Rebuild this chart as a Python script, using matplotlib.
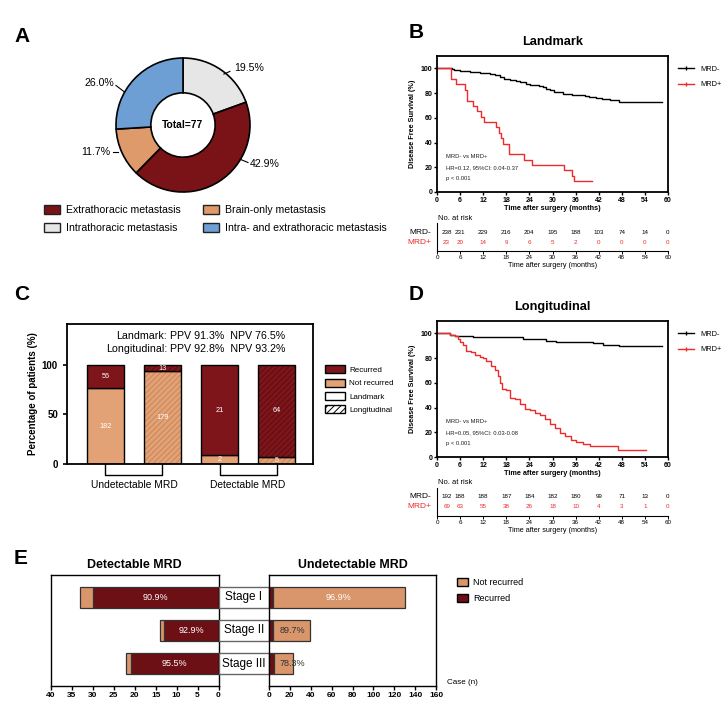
import matplotlib
matplotlib.use('Agg')
import matplotlib.pyplot as plt
from matplotlib.patches import Patch
from matplotlib.lines import Line2D

plt.rcParams['font.family'] = ['Liberation Sans', 'DejaVu Sans']
plt.rcParams['hatch.linewidth'] = 0.7

# ---------------- data ----------------
# A: metastasis pattern (clockwise from top)
meta_labels = ['Intrathoracic metastasis', 'Extrathoracic metastasis',
               'Brain-only metastasis', 'Intra- and extrathoracic metastasis']
meta_counts = [15, 33, 9, 20]

# B: landmark KM (months, DFS %)
land_neg_t = [0, 3.8, 4.5, 5.9, 7.0, 8.6, 11.2, 12.5, 13.8, 15.0, 16.4, 17.5, 19.0, 20.5,
              21.6, 23.1, 24.2, 26.5, 27.5, 28.3, 29.4, 30.5, 32.6, 35.0, 36.9, 38.5,
              39.5, 41.2, 42.9, 45.0, 47.2, 58.5]
land_neg_s = [100, 99.2, 98.6, 98.0, 97.5, 97.0, 96.5, 96.0, 95.2, 94.3, 93.0, 91.8, 90.8,
              90.0, 89.0, 87.5, 86.5, 85.5, 84.6, 83.5, 82.3, 80.5, 79.3, 78.8, 78.3, 77.6,
              77.0, 76.2, 75.4, 74.8, 73.0, 73.0]
land_pos_t = [0, 3.7, 5.0, 7.3, 7.8, 9.3, 10.3, 11.5, 12.1, 15.2, 16.2, 16.6, 17.1, 18.6,
              22.7, 24.7, 33.0, 35.0, 35.5, 40.2]
land_pos_s = [100, 91.3, 87.0, 82.6, 73.9, 69.6, 65.2, 60.9, 56.5, 52.2, 47.8, 43.5, 39.1,
              30.4, 26.1, 21.7, 17.4, 13.0, 8.7, 8.7]
risk_times = [2.5, 6, 12, 18, 24, 30, 36, 42, 48, 54, 60]
land_risk_neg = [238, 231, 229, 216, 204, 195, 188, 103, 74, 14, 0]
land_risk_pos = [23, 20, 14, 9, 6, 5, 2, 0, 0, 0, 0]
land_stats = ['MRD- vs MRD+', 'HR=0.12, 95%CI: 0.04-0.37', 'p < 0.001']

# D: longitudinal KM
long_neg_t = [0, 3.5, 4.6, 9.4, 17.1, 22.3, 28.4, 31.0, 40.5, 43.1, 47.4, 58.5]
long_neg_s = [100, 99.0, 98.1, 97.3, 96.7, 95.4, 94.0, 93.2, 91.9, 90.8, 89.7, 89.7]
long_pos_t = [0, 3.5, 4.6, 5.5, 6.1, 6.8, 7.6, 8.9, 9.8, 11.1, 12.0, 12.8, 14.1, 15.0, 15.8,
              16.3, 17.0, 18.0, 18.9, 20.2, 21.5, 22.8, 24.1, 25.4, 26.7, 28.0, 29.3, 30.6,
              31.9, 33.2, 34.9, 36.2, 37.9, 39.7, 47.0, 54.4]
long_pos_s = [100, 98.6, 97.6, 95.4, 92.7, 90.8, 85.9, 84.6, 82.4, 81.0, 79.9, 77.8, 73.7,
              70.2, 65.6, 60.2, 55.3, 54.5, 48.0, 46.6, 43.1, 38.5, 37.7, 35.8, 33.9, 30.4,
              26.3, 23.6, 19.5, 17.3, 14.1, 12.2, 10.6, 8.7, 6.0, 6.0]
long_risk_neg = [192, 188, 188, 187, 184, 182, 180, 99, 71, 13, 0]
long_risk_pos = [69, 63, 55, 38, 26, 18, 10, 4, 3, 1, 0]
long_stats = ['MRD- vs MRD+', 'HR=0.05, 95%CI: 0.03-0.08', 'p < 0.001']

# C: recurrence by MRD status (Landmark / Longitudinal)
c_groups = ['Undetectable MRD', 'Detectable MRD']
c_recurred = [56, 13, 21, 64]
c_not_recurred = [182, 179, 2, 5]
c_longitudinal = [False, True, False, True]

# E: by stage
stages = ['Stage I', 'Stage II', 'Stage III']
det_recurred = [30, 13, 21]
det_not = [3, 1, 1]
undet_recurred = [4, 4, 5]
undet_not = [126, 35, 18]

# ---------------- styling ----------------
RED_DARK = '#7E151B'
ORANGE = '#E3A276'
E_RED = '#6C1016'
E_ORANGE = '#D9966A'
KM_RED = '#EE2A2A'

W, H = 726, 702
fig = plt.figure(figsize=(W / 100, H / 100), dpi=100)


def add_ax(l, t, r, b):
    return fig.add_axes([l / W, 1 - b / H, (r - l) / W, (b - t) / H])


def bold_ticks(ax):
    for lab in ax.get_xticklabels() + ax.get_yticklabels():
        lab.set_fontweight('bold')


for letter, x, y in [('A', 14, 36), ('B', 409, 32), ('C', 14, 295), ('D', 409, 295), ('E', 14, 559)]:
    fig.text(x / W, 1 - y / H, letter, fontsize=15, weight='bold', va='center')

# ---------------- A: donut ----------------
ax = add_ax(183 - 83.75, 125 - 83.75, 183 + 83.75, 125 + 83.75)
meta_colors = ['#E6E6E6', '#7A1317', '#DE9A6A', '#6E9FD4']
ax.pie(meta_counts, colors=meta_colors, startangle=90, counterclock=False, radius=1,
       wedgeprops=dict(width=0.52, edgecolor='black', linewidth=1.2))
ax.set_xlim(-1.25, 1.25)
ax.set_ylim(-1.25, 1.25)
ax.set_aspect('equal')
ax.text(0, 0, 'Total=%d' % sum(meta_counts), ha='center', va='center', fontsize=7.4, weight='bold')
total = sum(meta_counts)
# label anchor (leader start, leader end, text pos, ha)
lab_pos = [((0.61, 0.76), (0.70, 0.80), (0.76, 0.85), 'left'),
           ((0.85, -0.51), (0.97, -0.56), (1.0, -0.58), 'left'),
           ((-0.97, -0.40), (-1.05, -0.40), (-1.08, -0.40), 'right'),
           ((-0.87, 0.49), (-1.0, 0.59), (-1.03, 0.63), 'right')]
for c, (p0, p1, pt, ha) in zip(meta_counts, lab_pos):
    ax.plot([p0[0], p1[0]], [p0[1], p1[1]], color='black', lw=0.8, clip_on=False)
    ax.text(pt[0], pt[1], '%.1f%%' % (c / total * 100), ha=ha, va='center', fontsize=7.6)

order = [1, 0, 2, 3]
fig.legend(handles=[Patch(facecolor=meta_colors[i], edgecolor='#222222', lw=1, label=meta_labels[i])
                    for i in order],
           loc='upper left', bbox_to_anchor=(40 / W, 1 - 201 / H), ncol=2, frameon=False,
           fontsize=7.6, handlelength=1.5, handleheight=0.9, handletextpad=0.6,
           columnspacing=2.1, labelspacing=0.75, borderaxespad=0)


# ---------------- KM panels ----------------
def km_panel(top, title, neg, pos, stats, risk_neg, risk_pos):
    ax = add_ax(437, top, 668, top + 136)
    ax.step(neg[0], neg[1], where='post', color='black', lw=1)
    ax.step(pos[0], pos[1], where='post', color=KM_RED, lw=1)
    ax.set_xlim(0, 60)
    ax.set_ylim(0, 110)
    ax.set_xticks(range(0, 61, 6))
    ax.set_yticks(range(0, 101, 20))
    ax.tick_params(labelsize=5, length=2.5, width=1, pad=1)
    bold_ticks(ax)
    for s in ax.spines.values():
        s.set_linewidth(1.3)
    ax.set_xlabel('Time after surgery (months)', fontsize=5.2, weight='bold', labelpad=1)
    ax.set_ylabel('Disease Free Survival (%)', fontsize=5.2, weight='bold', labelpad=3)
    ax.set_title(title, fontsize=9.2, weight='bold', pad=8)
    for i, line in enumerate(stats):
        ax.text(2.3, 29 - i * 9.2, line, fontsize=4.2, va='center', color='#222222')
    handles = [Line2D([], [], color='black', lw=1, marker='|', markersize=2.5, label='MRD-'),
               Line2D([], [], color=KM_RED, lw=1, marker='|', markersize=2.5, label='MRD+')]
    ax.legend(handles=handles, loc='upper left', bbox_to_anchor=(1.03, 0.95), frameon=False,
              fontsize=5.3, handlelength=2.2, labelspacing=1.1, borderaxespad=0)

    rt = add_ax(437, top + 167, 668, top + 195)
    rt.set_xlim(0, 60)
    rt.set_ylim(0, 28)
    rt.spines['top'].set_visible(False)
    rt.spines['right'].set_visible(False)
    rt.spines['left'].set_linewidth(0.8)
    rt.spines['bottom'].set_linewidth(0.8)
    rt.set_yticks([])
    rt.set_xticks(range(0, 61, 6))
    rt.tick_params(labelsize=4.5, length=2, width=0.7, pad=1)
    rt.set_xlabel('Time after surgery (months)', fontsize=5.2, labelpad=1)
    rt.text(0.3, 33, 'No. at risk', fontsize=5.4, va='center', clip_on=False)
    rt.text(-1.5, 19, 'MRD-', fontsize=6, ha='right', va='center')
    rt.text(-1.5, 9, 'MRD+', fontsize=6, ha='right', va='center', color=KM_RED)
    for t, a, b in zip(risk_times, risk_neg, risk_pos):
        rt.text(t, 19, str(a), fontsize=4.5, ha='center', va='center')
        rt.text(t, 9, str(b), fontsize=4.5, ha='center', va='center', color=KM_RED)


km_panel(56, 'Landmark', (land_neg_t, land_neg_s), (land_pos_t, land_pos_s), land_stats,
         land_risk_neg, land_risk_pos)
km_panel(321, 'Longitudinal', (long_neg_t, long_neg_s), (long_pos_t, long_pos_s), long_stats,
         long_risk_neg, long_risk_pos)

# ---------------- C: stacked bars ----------------
ax = add_ax(67, 324, 313, 464)
bw = 0.65
for i, (r, n, hat) in enumerate(zip(c_recurred, c_not_recurred, c_longitudinal)):
    tot = r + n
    pn = n / tot * 100
    pr = r / tot * 100
    for bottom, h, col, hcol in [(0, pn, ORANGE, '#C98657'), (pn, pr, RED_DARK, '#5A0D12')]:
        ax.bar(i, h, bw, bottom=bottom, color=col, edgecolor=hcol if hat else col,
               hatch='//////' if hat else None, lw=0)
        ax.bar(i, h, bw, bottom=bottom, fill=False, edgecolor='black', lw=1)
    ax.text(i, pn / 2, str(n), color='white', fontsize=5.3, ha='center', va='center')
    ax.text(i, pn + pr / 2, str(r), color='white', fontsize=5.3, ha='center', va='center')
ax.set_xlim(-0.675, 3.64)
ax.set_ylim(0, 141)
ax.set_xticks([])
ax.set_yticks([0, 50, 100])
ax.tick_params(labelsize=7, width=1.2, length=3)
bold_ticks(ax)
for s in ax.spines.values():
    s.set_linewidth(1.3)
ax.set_ylabel('Percentage of patients (%)', fontsize=7, weight='bold', labelpad=3)

ppv_land = c_recurred[2] / (c_recurred[2] + c_not_recurred[2]) * 100
npv_land = c_not_recurred[0] / (c_recurred[0] + c_not_recurred[0]) * 100
ppv_long = c_recurred[3] / (c_recurred[3] + c_not_recurred[3]) * 100
npv_long = c_not_recurred[1] / (c_recurred[1] + c_not_recurred[1]) * 100
for y, name, ppv, npv in [(129, 'Landmark:', ppv_land, npv_land),
                          (116, 'Longitudinal:', ppv_long, npv_long)]:
    ax.text(1.08, y, name, ha='right', va='center', fontsize=7.7)
    ax.text(1.14, y, 'PPV %.1f%%  NPV %.1f%%' % (ppv, npv), ha='left', va='center', fontsize=7.7)

for g, name in enumerate(c_groups):
    x0, x1 = 2 * g, 2 * g + 1
    ax.plot([x0, x0, x1, x1], [0, -11, -11, 0], color='black', lw=1, clip_on=False)
    ax.text((x0 + x1) / 2, -21.5, name, ha='center', va='center', fontsize=7.4)

fig.legend(handles=[Patch(facecolor=RED_DARK, edgecolor='black', label='Recurred'),
                    Patch(facecolor=ORANGE, edgecolor='black', label='Not recurred'),
                    Patch(facecolor='white', edgecolor='black', label='Landmark'),
                    Patch(facecolor='white', edgecolor='black', hatch='/////', label='Longitudinal')],
           loc='upper left', bbox_to_anchor=(322 / W, 1 - 362 / H), frameon=False, fontsize=5.8,
           handlelength=2.4, handleheight=1.2, handletextpad=0.6, labelspacing=0.55, borderaxespad=0)

# ---------------- E: butterfly bars ----------------
ypos = list(range(len(stages)))
bh = 0.63
axl = add_ax(51, 575, 218.5, 686)
axm = add_ax(218.5, 575, 269, 686)
axr = add_ax(269, 575, 436, 686)
for a in (axl, axm, axr):
    a.set_ylim(2.66, -0.66)
    a.set_yticks([])

axl.barh(ypos, det_recurred, bh, color=E_RED, edgecolor='#333333', lw=0.9)
axl.barh(ypos, det_not, bh, left=det_recurred, color=E_ORANGE, edgecolor='#333333', lw=0.9)
axl.set_xlim(40, 0)
axl.set_xticks(range(0, 41, 5))
for y, r, n in zip(ypos, det_recurred, det_not):
    axl.text(r / 2, y, '%.1f%%' % (r / (r + n) * 100), color='white', fontsize=6.5,
             ha='center', va='center')
axl.set_title('Detectable MRD', fontsize=8.9, weight='bold', pad=5)

axr.barh(ypos, undet_recurred, bh, color=E_RED, edgecolor='#333333', lw=0.9)
axr.barh(ypos, undet_not, bh, left=undet_recurred, color=E_ORANGE, edgecolor='#333333', lw=0.9)
axr.set_xlim(0, 160)
axr.set_xticks(range(0, 161, 20))
for y, r, n in zip(ypos, undet_recurred, undet_not):
    axr.text(max(r + n / 2, 22), y, '%.1f%%' % (n / (r + n) * 100), fontsize=6.5, ha='center',
             va='center', color='white' if n > 50 else '#333333')
axr.set_title('Undetectable MRD', fontsize=8.9, weight='bold', pad=5)

for a in (axl, axr):
    a.tick_params(labelsize=6, length=3, width=1, pad=1.5)
    bold_ticks(a)
    for s in a.spines.values():
        s.set_linewidth(1)

axm.barh(ypos, [1] * len(stages), bh, color='white', edgecolor='#666666', lw=1)
axm.set_xlim(0, 1)
axm.axis('off')
for y, s in zip(ypos, stages):
    axm.text(0.5, y, s, fontsize=8.5, ha='center', va='center')

fig.legend(handles=[Patch(facecolor=E_ORANGE, edgecolor='black', label='Not recurred'),
                    Patch(facecolor=E_RED, edgecolor='black', label='Recurred')],
           loc='upper left', bbox_to_anchor=(453 / W, 1 - 574 / H), frameon=False, fontsize=6.5,
           handlelength=1.3, handleheight=1.0, handletextpad=0.5, labelspacing=0.8, borderaxespad=0)
fig.text(447 / W, 1 - 683 / H, 'Case (n)', fontsize=5.8, va='center')

fig.savefig('out.png', dpi=100)
